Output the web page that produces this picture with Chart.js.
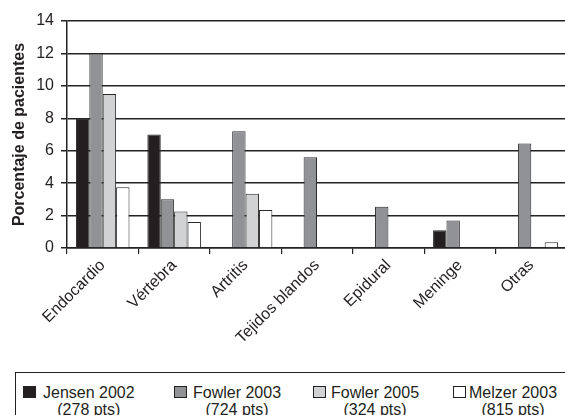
<!DOCTYPE html>
<html>
<head>
<meta charset="utf-8">
<script src="https://cdn.jsdelivr.net/npm/chart.js@4/dist/chart.umd.min.js"></script>
<style>
  html, body { margin: 0; padding: 0; background: #fff; overflow: hidden; }
  #wrap { position: relative; width: 565px; height: 415px; overflow: hidden; background: #fff; }
  #c { position: absolute; left: 0; top: 0; }
  #legend {
    position: absolute; left: 15px; top: 372px; width: 600px; height: 80px;
    border-top: 1px solid #222; border-left: 1px solid #222; box-sizing: border-box;
  }
  .item { position: absolute; top: 0; font-family: "Liberation Sans", Arial, sans-serif; font-size: 16px; color: #231f20; }
  .sw { position: absolute; width: 11px; height: 10px; border: 1px solid #222; }
  .txt { position: absolute; display: inline-block; text-align: center; line-height: 17px; white-space: nowrap; }
</style>
</head>
<body>
<div id="wrap">
  <canvas id="c" width="575" height="365"></canvas>
  <div id="legend"></div>
</div>
<script>
// Localización de la infección, % de pacientes por serie
const categories = ['Endocardio', 'Vértebra', 'Artritis', 'Tejidos blandos', 'Epidural', 'Meninge', 'Otras'];
const jensen2002  = [8.0, 7.0, null, null, null, 1.1, null];
const fowler2003  = [12.0, 3.0, 7.2, 5.6, 2.55, 1.7, 6.45];
const fowler2005  = [9.5, 2.25, 3.35, null, null, null, null];
const melzer2003  = [3.75, 1.6, 2.35, null, null, null, 0.35];
const seriesNames = ['Jensen 2002', 'Fowler 2003', 'Fowler 2005', 'Melzer 2003'];
const seriesSizes = ['(278 pts)', '(724 pts)', '(324 pts)', '(815 pts)'];
const yTicks = [0, 2, 4, 6, 8, 10, 12, 14];

const fills = ['#231f20', '#919296', '#d1d2d4', '#ffffff'];
const seriesData = [jensen2002, fowler2003, fowler2005, melzer2003];

const FONT = '"Liberation Sans", Arial, sans-serif';
const INK = '#222';

new Chart(document.getElementById('c'), {
  type: 'bar',
  data: {
    labels: categories,
    datasets: seriesData.map((d, i) => ({
      label: seriesNames[i],
      data: d,
      backgroundColor: fills[i],
      borderColor: '#2a2a2a',
      borderWidth: 1,
      categoryPercentage: 0.75,
      barPercentage: 1.0
    }))
  },
  options: {
    responsive: false,
    animation: false,
    layout: { padding: { top: 21, left: 0, right: 8, bottom: 0 } },
    plugins: { legend: { display: false }, tooltip: { enabled: false } },
    scales: {
      x: {
        offset: true,
        grid: { offset: true, drawOnChartArea: false, drawTicks: true, tickLength: 6, color: INK, lineWidth: 1.2 },
        border: { display: true, color: INK, width: 1.5 },
        ticks: {
          minRotation: 45, maxRotation: 45, autoSkip: false, padding: 2,
          color: '#231f20', font: { family: FONT, size: 16 }
        },
        afterFit: (s) => { s.height = 117; }
      },
      y: {
        min: 0, max: 14,
        afterBuildTicks: (s) => { s.ticks = yTicks.map(v => ({ value: v })); },
        grid: { color: INK, lineWidth: 1.5, tickLength: 6, drawTicks: true },
        border: { display: true, color: INK, width: 1.5 },
        ticks: { padding: 7, color: '#231f20', font: { family: FONT, size: 16 } },
        title: {
          display: true, text: 'Porcentaje de pacientes', color: '#231f20',
          font: { family: FONT, size: 16, weight: 'bold' }, padding: { top: 10, bottom: 0 }
        },
        afterFit: (s) => { s.width = 67; }
      }
    }
  }
});

// Leyenda de dos líneas debajo del gráfico
const swLeft = [7, 158, 297, 437];
const txtLeft = [27, 177, 315, 453];
const legend = document.getElementById('legend');
seriesNames.forEach((name, i) => {
  const sw = document.createElement('div');
  sw.className = 'item sw';
  sw.style.left = swLeft[i] + 'px';
  sw.style.top = '13px';
  sw.style.background = fills[i];
  legend.appendChild(sw);
  const t = document.createElement('div');
  t.className = 'item txt';
  t.style.left = txtLeft[i] + 'px';
  t.style.top = '11px';
  t.innerHTML = name + '<br>' + seriesSizes[i];
  legend.appendChild(t);
});
</script>
</body>
</html>
